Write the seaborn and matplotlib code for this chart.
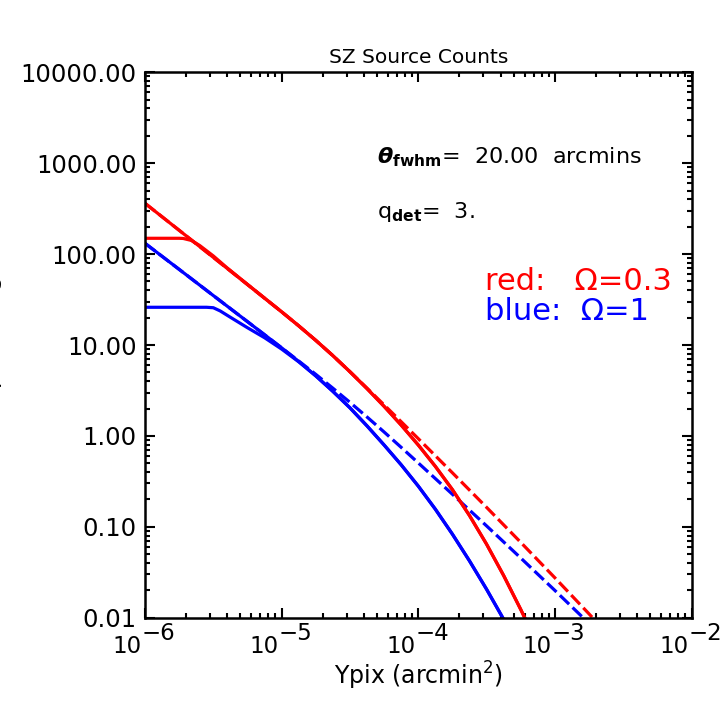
import numpy as np
import pandas as pd
import matplotlib
matplotlib.use("Agg")
import matplotlib.pyplot as plt
import matplotlib.ticker as mticker
from matplotlib.transforms import offset_copy
import seaborn as sns

# ---- data (log10 values) ----
# red, Omega = 0.3
red_dash_logx = [-6.0, -5.75, -5.5, -5.25, -5.0, -4.875, -4.75, -4.625, -4.5, -4.375, -4.25, -4.125,
                 -4.0, -3.75, -3.5, -3.25, -3.0, -2.75, -2.5]
red_dash_logy = [2.559, 2.262, 1.964, 1.665, 1.365, 1.211, 1.051, 0.883, 0.706, 0.525, 0.341, 0.156,
                 -0.030, -0.406, -0.786, -1.171, -1.561, -1.958, -2.363]

red_solid_logx = [-6.0, -5.75, -5.5, -5.25, -5.0, -4.875, -4.75, -4.625, -4.5, -4.375, -4.25, -4.125,
                  -4.0, -3.875, -3.75, -3.625, -3.5, -3.375, -3.25, -3.125]
red_solid_logy = [2.559, 2.262, 1.964, 1.665, 1.365, 1.211, 1.051, 0.883, 0.706, 0.520, 0.325, 0.119,
                  -0.100, -0.335, -0.591, -0.876, -1.191, -1.536, -1.909, -2.303]

red_flat_logx = [-6.0, -5.75, -5.72, -5.66, -5.6, -5.5, -5.4, -5.25, -5.0, -4.875, -4.75, -4.625, -4.5,
                 -4.375, -4.25, -4.125, -4.0, -3.875, -3.75, -3.625, -3.5, -3.375, -3.25, -3.125]
red_flat_logy = [2.174, 2.174, 2.172, 2.150, 2.095, 1.980, 1.850, 1.667, 1.365, 1.211, 1.051, 0.883, 0.706,
                 0.520, 0.325, 0.119, -0.100, -0.335, -0.591, -0.876, -1.191, -1.536, -1.909, -2.303]

# blue, Omega = 1
blue_dash_logx = [-6.0, -5.75, -5.5, -5.25, -5.0, -4.875, -4.75, -4.625, -4.5, -4.375, -4.25, -4.125,
                  -4.0, -3.75, -3.5, -3.25, -3.0, -2.75, -2.5]
blue_dash_logy = [2.119, 1.832, 1.544, 1.257, 0.969, 0.824, 0.677, 0.525, 0.369, 0.208, 0.043, -0.126,
                  -0.297, -0.642, -0.990, -1.343, -1.700, -2.063, -2.430]

blue_solid_logx = [-6.0, -5.75, -5.5, -5.25, -5.0, -4.875, -4.75, -4.625, -4.5, -4.375, -4.25, -4.125,
                   -4.0, -3.875, -3.75, -3.625, -3.5, -3.375, -3.25]
blue_solid_logy = [2.119, 1.832, 1.544, 1.257, 0.969, 0.819, 0.660, 0.490, 0.309, 0.110, -0.100, -0.318,
                   -0.552, -0.806, -1.081, -1.375, -1.687, -2.018, -2.368]

blue_flat_logx = [-6.0, -5.75, -5.55, -5.5, -5.45, -5.375, -5.25, -5.125, -5.0, -4.875, -4.75, -4.625,
                  -4.5, -4.375, -4.25, -4.125, -4.0, -3.875, -3.75, -3.625, -3.5, -3.375, -3.25]
blue_flat_logy = [1.415, 1.415, 1.415, 1.410, 1.375, 1.305, 1.190, 1.080, 0.955, 0.815, 0.660, 0.490,
                  0.309, 0.110, -0.100, -0.318, -0.552, -0.806, -1.081, -1.375, -1.687, -2.018, -2.368]

y_major = [0.01, 0.1, 1.0, 10.0, 100.0, 1000.0, 10000.0]
x_major = [1e-6, 1e-5, 1e-4, 1e-3, 1e-2]
x_major_exponents = ["\u22126", "\u22125", "\u22124", "\u22123", "\u22122"]

curves = [
    ("red_dash", red_dash_logx, red_dash_logy, "#ff0000", "dash"),
    ("blue_dash", blue_dash_logx, blue_dash_logy, "#0000ff", "dash"),
    ("red_solid", red_solid_logx, red_solid_logy, "#ff0000", "solid"),
    ("red_flat", red_flat_logx, red_flat_logy, "#ff0000", "solid"),
    ("blue_solid", blue_solid_logx, blue_solid_logy, "#0000ff", "solid"),
    ("blue_flat", blue_flat_logx, blue_flat_logy, "#0000ff", "solid"),
]

frames = []
for name, lx, ly, _, _ in curves:
    frames.append(pd.DataFrame({"curve": name,
                                "Ypix": 10.0 ** np.asarray(lx),
                                "N": 10.0 ** np.asarray(ly)}))
df = pd.concat(frames, ignore_index=True)

# ---- style ----
sns.set_style("ticks")
plt.rcParams["font.family"] = ["DejaVu Sans"]
plt.rcParams["mathtext.fontset"] = "dejavusans"
for key in ["text.color", "axes.labelcolor", "xtick.color", "ytick.color", "axes.edgecolor"]:
    plt.rcParams[key] = "black"

W = 727.0
fig = plt.figure(figsize=(7.27, 7.27), dpi=100)
ax_left, ax_right, ax_top, ax_bot = 145.0, 691.5, 72.3, 617.7
ax = fig.add_axes([ax_left / W, 1 - ax_bot / W, (ax_right - ax_left) / W, (ax_bot - ax_top) / W])

for name, _, _, color, style in curves:
    sub = df[df["curve"] == name]
    line_kw = dict(dashes=(4, 1.5)) if style == "dash" else {}
    sns.lineplot(data=sub, x="Ypix", y="N", ax=ax, color=color, lw=2.3,
                 sort=False, estimator=None, legend=False, **line_kw)

ax.set_xscale("log")
ax.set_yscale("log")
ax.set_xlim(1e-6, 1e-2)
ax.set_ylim(0.01, 10000)

ax.xaxis.set_major_locator(mticker.FixedLocator(x_major))
ax.xaxis.set_major_formatter(mticker.NullFormatter())
ax.xaxis.set_minor_locator(mticker.LogLocator(base=10, subs=np.arange(2, 10), numticks=20))
ax.xaxis.set_minor_formatter(mticker.NullFormatter())
ax.yaxis.set_major_locator(mticker.FixedLocator(y_major))
ax.yaxis.set_major_formatter(mticker.FormatStrFormatter("%.2f"))
ax.yaxis.set_minor_locator(mticker.LogLocator(base=10, subs=np.arange(2, 10), numticks=20))
ax.yaxis.set_minor_formatter(mticker.NullFormatter())

for sp in ax.spines.values():
    sp.set_visible(True)
    sp.set_linewidth(1.8)
    sp.set_color("black")

ax.tick_params(which="both", direction="in", top=True, right=True, color="black", width=1.5)
ax.tick_params(which="major", length=7)
ax.tick_params(which="minor", length=3.8)
ax.tick_params(axis="y", which="major", labelsize=17.5, pad=6)

# x tick labels in the IDL style: "10" with a large raised exponent
base_tr = offset_copy(ax.get_xaxis_transform(), fig=fig, x=-3, y=-35.6, units="dots")
exp_tr = offset_copy(ax.get_xaxis_transform(), fig=fig, x=-3, y=-22.3, units="dots")
for xv, ex in zip(x_major, x_major_exponents):
    ax.text(xv, 0, "10", transform=base_tr, ha="right", va="baseline", fontsize=16.5, clip_on=False)
    ax.text(xv, 0, ex, transform=exp_tr, ha="left", va="baseline", fontsize=16.5, clip_on=False)

ax.set_xlabel(r"Ypix (arcmin$^{2}$)", fontsize=17)
ax.xaxis.label.set_va("baseline")
ax.xaxis.set_label_coords(0.5, -(685 - ax_bot) / (ax_bot - ax_top))
ax.set_ylabel("")
ax.set_title("SZ Source Counts", fontsize=14.5, pad=6.5)

# partially visible y label (cut off at the left edge, as in the original)
fig.text(6 / W, 1 - 345 / W, "N(>Ypix)  (deg$^{-2}$)", rotation=90,
         ha="right", va="center", fontsize=17)

fig.text(377 / W, 1 - 163 / W, r"$\boldsymbol{\theta}_{\mathbf{fwhm}}$=  20.00  arcmins",
         fontsize=16, ha="left", va="baseline")
fig.text(377 / W, 1 - 218 / W, r"q$_{\mathbf{det}}$=  3.",
         fontsize=16, ha="left", va="baseline")
fig.text(485 / W, 1 - 290 / W, "red:   \u03a9=0.3",
         fontsize=22, color="#ff0000", ha="left", va="baseline")
fig.text(485 / W, 1 - 320 / W, "blue:  \u03a9=1",
         fontsize=22, color="#0000ff", ha="left", va="baseline")

fig.savefig("out.png", dpi=100, facecolor="white")
